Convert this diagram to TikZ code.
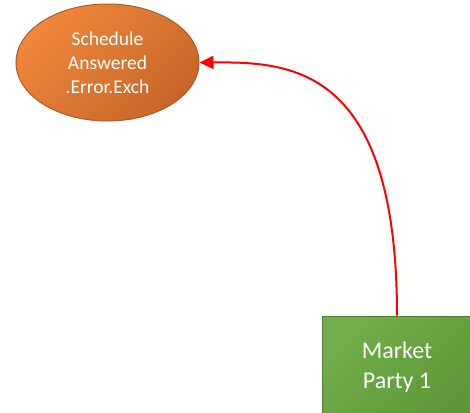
\documentclass[tikz,border=0pt]{standalone}
\usepackage{fontspec}
\setmainfont{Carlito}
\usepackage{xcolor}
\usetikzlibrary{arrows.meta,shapes.geometric}

\definecolor{schedtop}{RGB}{240,134,58}
\definecolor{schedbot}{RGB}{200,102,42}
\definecolor{schedline}{RGB}{174,90,35}
\definecolor{partytop}{RGB}{114,174,74}
\definecolor{partybot}{RGB}{94,152,56}
\definecolor{partyline}{RGB}{80,126,50}

\begin{document}
\begin{tikzpicture}[x=1pt, y=-1pt,
                    schedstate/.style={ellipse, draw=schedline, line width=1pt,
                      top color=schedtop, bottom color=schedbot, shading angle=45,
                      text=white, minimum width=183pt, minimum height=117pt,
                      inner sep=0pt, align=center,
                      font=\fontsize{19.5}{24}\selectfont},
                    partybox/.style={rectangle, draw=partyline, line width=1pt,
                      top color=partytop, bottom color=partybot, shading angle=45,
                      text=white, minimum width=150pt, minimum height=102pt,
                      inner sep=0pt, align=center,
                      font=\fontsize{24}{30}\selectfont},
                    flow/.style={draw=red, line width=2pt,
                      -{Triangle[length=14pt,width=13pt]}}]
                      \useasboundingbox (0,0) rectangle (470,412);
                      \node[schedstate] (sched) at (107.5,62.5)
                      {Schedule\\Answered\\.Error.Exch};
                      \node[partybox] (party1) at (397,367)
                      {Market\\Party 1};
                      \draw[flow] (party1.north) .. controls (397,65) and (290,62)
                      .. (sched.east);
                  \end{tikzpicture}
\end{document}
